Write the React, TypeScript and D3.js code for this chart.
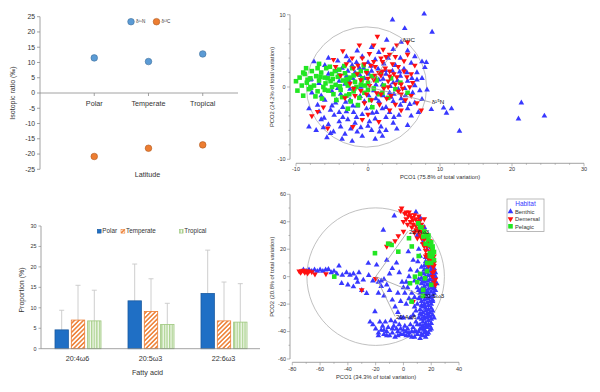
import React from "react";
import * as d3 from "d3";

const FONT = "'Liberation Sans', Arial, sans-serif";

// ---------- Panel A: isotopic ratios ----------
const isoCats = ["Polar", "Temperate", "Tropical"];
const isoN15 = [11.5, 10.3, 12.8];
const isoC13 = [-20.8, -18.1, -17.0];
const isoTicks = [25, 20, 15, 10, 5, 0, -5, -10, -15, -20, -25];

// ---------- Panel C: fatty acids ----------
const faCats = ["20:4ω6", "20:5ω3", "22:6ω3"];
const faSeries = ["Polar", "Temperate", "Tropical"];
const faPolar = [4.6, 11.7, 13.5];
const faPolarErr = [9.4, 20.7, 24.1];
const faTemperate = [7.0, 9.1, 6.8];
const faTemperateErr = [15.5, 17.1, 16.3];
const faTropical = [6.8, 5.9, 6.5];
const faTropicalErr = [14.3, 11.1, 15.9];
const faTicks = [0, 5, 10, 15, 20, 25, 30];

// ---------- Panel B: PCO of isotopes ----------
const pcoBTicksX = [-10, 0, 10, 20, 30];
const pcoBTicksY = [-10, 0, 10];
const pcoBVectors: [string, number, number][] = [["δ¹³C", 4.7, 6.5], ["δ¹⁵N", 8.7, -2.1]];
const pcoBBenthic: [number, number][] = [
  [-5.5, 4.0], [-3, 4.2], [-1.5, 5.0], [0.5, 5.5], [1.5, 4.8], [2.6, 6.5], [3.5, 5.2], [4.5, 4.0], [5.5, 5.0], [6.5, 4.2],
  [7.5, 3.5], [3.4, 9.3], [5.1, 8.1], [7.8, 10.1], [8.9, 7.6], [8.1, 3.4], [7.9, 2.7], [6.8, 2.0], [-7.5, 3.5], [-6, 3.0],
  [-4.2, 3.6], [-2.2, 3.0], [0, 3.4], [1, 3.8], [2.2, 3.2], [3.8, 3.0], [5.0, 2.5], [6, 3.3], [-0.8, 4.2], [-2.8, 2.2],
  [-8, 1.0], [-6.8, 0.5], [-5.5, 1.8], [-4, 0.8], [-3, 1.5], [-1.8, 2.0], [-0.5, 1.2], [0.5, 2.2], [1.5, 1.0], [2.5, 1.8],
  [3.5, 0.6], [4.5, 1.5], [5.5, 0.8], [6.5, 0.2], [7.5, 1.2], [8.2, -0.4], [7.5, -1.7], [8.8, -3.1], [10.5, -2.9], [10.9, -3.6],
  [11.6, -3.0], [12.7, -6.1], [21.3, -2.2], [20.9, -4.4], [24.5, -4.0], [-1, 0], [0.8, -0.5], [2, 0.3], [3, -0.8], [4.2, -0.3],
  [5.2, -1.2], [6.2, -0.8], [-2.5, -0.3], [-3.8, -1.0], [-5, -0.6], [-6.5, -1.2], [-7.8, -0.8], [-8.2, -5.5], [-7.9, 1.1], [-6.1, -4.3],
  [-8.2, -3.0], [-7, -2.5], [-6, -1.8], [-5.2, -3.2], [-4.5, -2.2], [-3.5, -2.8], [-2.5, -1.8], [-1.5, -2.6], [-0.5, -2.0], [0.5, -2.8],
  [1.5, -2.0], [2.5, -2.8], [3.5, -2.0], [4.5, -2.5], [5.5, -3.0], [6.5, -2.2], [-6.5, -4.5], [-5.5, -5.2], [-4.7, -3.9], [-3.8, -5.5],
  [-2.8, -4.5], [-1.8, -5.0], [-0.8, -3.8], [0.2, -4.8], [1.2, -3.5], [2.5, -4.2], [3.5, -5.0], [4.3, -3.9], [6.0, -4.0], [7.0, -3.5],
  [-5.2, -6.4], [-5.7, -7.0], [-4.8, -6.2], [-3.2, -6.5], [-1.5, -6.2], [0.5, -6.0], [2.0, -6.8], [2.5, -6.0], [-7.2, -6.0], [-4.4, -1.8],
  [-2.2, -7.5], [1.0, -7.2], [4.0, -5.8], [5.5, -5.3], [-0.2, -3.0], [1.8, -5.5], [-4.0, -3.5], [-2.0, -3.5], [3.0, -3.5], [5.0, -2.0],
  [7.2, -0.5], [6.8, 1.0], [-3.5, -4.2], [-1.0, -5.6], [1.0, -4.4], [3.2, -1.4], [-2.6, 0.8], [-1.2, 2.6], [2.8, 4.0], [4.6, 6.2],
  [-4.5, 2.2], [-3.6, 2.6], [-2.6, 3.6], [-1.6, 3.4], [-0.6, 2.6], [0.4, 2.9], [1.4, 2.5], [2.4, 2.3], [3.4, 2.2], [4.4, 2.1],
  [5.4, 2.0], [-4.2, -0.2], [-3.2, 0.4], [-2.1, 1.2], [-1.1, 1.6], [0.1, 1.8], [1.1, 0.3], [2.1, 1.1], [3.1, 0.1], [4.1, 0.9],
  [5.1, -0.2], [6.1, 1.2], [-3.1, -2.1], [-2.1, -2.6], [-1.1, -1.3], [0.1, -1.2], [1.1, -1.6], [2.1, -1.2], [3.6, -1.0], [4.6, -1.6],
  [5.8, -2.4], [-1.6, -4.2], [0.6, -3.6], [2.0, -3.0], [3.6, -4.2], [-5.0, -2.6], [-3.0, -3.4], [-6.8, -3.4], [-4.0, -4.8], [-2.4, -5.8],
  [0.0, -5.4], [1.6, -6.2], [-0.8, -6.8], [-3.6, -7.2], [-6.2, -5.6]
];
const pcoBPelagic: [number, number][] = [
  [-10, 0.8], [-9.5, 1.3], [-9.2, 0.2], [-8.8, 1.8], [-8.5, 0.6], [-8.2, -0.3], [-8, 1.2], [-7.8, 2.2], [-7.5, 0.2], [-7.2, 1.5],
  [-7, -0.6], [-6.8, 0.9], [-6.5, 2.0], [-6.2, 0.0], [-6, 1.3], [-5.8, 2.6], [-5.5, -0.5], [-5.2, 0.8], [-5, 1.8], [-4.8, -1.0],
  [-4.5, 0.3], [-4.2, 1.4], [-4, 2.4], [-3.8, -0.4], [-3.5, 0.9], [-3.2, 1.9], [-3, -1.2], [-2.8, 0.2], [-2.5, 1.3], [-2.2, 2.6],
  [-2, -0.6], [-1.8, 0.7], [-1.5, 1.8], [-1.2, -1.5], [-1, 0.3], [-0.8, 1.2], [-0.5, -0.8], [-0.2, 2.2], [0, 0.6], [0.3, -1.8],
  [0.5, 1.5], [0.8, -0.2], [1.2, 0.9], [1.5, -1.0], [1.8, 2.0], [2.2, 0.2], [2.8, -1.5], [3.2, 1.2], [3.8, -0.3], [4.5, 0.6],
  [5.5, -0.8], [-9.8, -0.5], [-8.6, 2.6], [-7.3, -1.3], [-6.4, -1.6], [-5.3, 2.8], [-4.4, -1.8], [-3.3, 2.9], [-2.4, -2.0], [-1.4, -2.5],
  [-0.6, 3.0], [0.6, -2.8], [-2.8, -3.0], [-9.0, -1.2], [-6.8, 3.2], [-7.9, -0.1], [-5.9, 0.5], [-4.9, 1.1], [-3.9, 0.1], [-2.9, 1.1],
  [-1.9, -0.2], [-0.9, 0.9], [-9.0, 2.0], [-8.0, 0.0], [-7.0, 2.6], [-6.0, -0.4], [-5.0, 0.0], [-4.0, 1.6], [-3.0, 0.6], [-2.0, 1.6],
  [-1.0, 2.2], [0.0, -0.4], [-6.6, 1.4], [-5.6, 1.2], [-4.6, 2.2], [-3.6, -1.4], [-2.6, -1.0], [-1.6, 0.0], [-0.4, 0.2], [1.0, 1.2],
  [2.0, -0.8], [-8.4, 1.0]
];
const pcoBDemersal: [number, number][] = [
  [1.3, 7.0], [2.1, 5.2], [5.5, 6.2], [-1.2, 5.8], [0.2, 4.6], [3.0, 4.5], [4.0, 5.8], [-3.5, 5.0], [-2.2, 4.0], [-0.5, 3.2],
  [1.0, 2.8], [2.0, 3.5], [3.0, 2.2], [4.2, 2.8], [5.0, 3.6], [-4.5, 2.8], [-1.5, 1.8], [-0.2, 2.0], [0.8, 1.0], [1.8, 1.6],
  [2.8, 0.8], [3.6, 1.8], [4.6, 0.4], [5.4, 1.4], [6.2, 0.6], [-2.5, 0.5], [-1.0, -0.5], [0.2, 0.2], [1.2, -0.8], [2.2, -0.2],
  [3.2, -1.2], [4.2, -0.6], [5.2, -1.8], [6.0, -1.2], [7.4, -3.2], [-3.2, -1.5], [-1.8, -1.2], [0.5, -1.8], [1.6, -2.4], [2.6, -1.6],
  [3.8, -2.4], [4.6, -3.2], [0.0, -3.8], [-0.8, -4.5], [1.5, -4.8], [-7.0, -3.4], [-7.8, -4.0], [-5.6, -5.7], [-2.1, -5.5], [-6.2, -2.8],
  [5.5, 4.5], [6.5, 3.0], [-3.0, 3.2], [-0.8, 4.0], [0.8, 3.5], [2.5, 4.2], [1.5, 2.0], [2.4, 2.6], [3.4, 3.2], [-2.0, 2.6],
  [-0.5, -2.2], [4.8, -0.2], [6.8, -2.2], [3.0, -3.2], [0.8, 5.8], [-4.8, 3.8], [5.0, 2.2], [6.0, 1.8], [-1.0, 1.0], [0.0, 1.2],
  [1.0, 1.6], [2.0, 2.2], [3.0, 1.5], [4.0, 1.4], [-0.2, -1.0], [1.8, -1.0], [2.8, 0.0], [3.8, 0.4], [4.6, -1.0], [5.8, 0.0],
  [-2.0, -0.2], [-3.8, 1.6], [0.4, 3.0], [-1.4, 3.0], [1.8, 4.0], [3.8, 4.2]
];

// ---------- Panel D: PCO of fatty acids ----------
const pcoDTicksX = [-80, -60, -40, -20, 0, 20, 40];
const pcoDTicksY = [-60, -40, -20, 0, 20, 40, 60];
const pcoDOrigin: [number, number] = [-20, 0];
const pcoDVectors: [string, number, number][] = [["22:6ω3", 3.2, 33], ["20:5ω3", 14, -14], ["20:4ω6", -6, -29]];
const pcoDBenthic: [number, number][] = [
  [-72, 5], [-70, 4], [-68, 5], [-66, 4], [-64, 5], [-62, 4], [-60, 5], [-58, 4], [-56, 5], [-54, 5.4],
  [-52, 3], [-50, 4], [-46.4, 7.8], [-48, 2], [-44, 1.2], [-41, 3], [-38.5, 1.2], [-36, 2], [-34, -1], [-32, 3],
  [-28.9, -2.4], [-44.5, -4.8], [-40, -6], [-36, -7.3], [-33, -4], [-25, 1], [-22, -3], [-18, -4], [-16, -7], [-14, -2],
  [-12, -6], [-26.5, -12.1], [-20.5, -25.5], [-18, -12], [-14, -14], [-10, -10], [-8, -17], [-6, -22], [-4, -26], [-25.3, 9.8],
  [-19.3, 8.5], [-14.5, 34], [-6.6, 44.3], [-12, 12], [-8, 6], [-5, 10], [-3, 3], [-1, -4], [1, -12], [2, -20],
  [3, -8], [4, 0], [3.5, 18.2], [10.4, 10.9], [5, 5], [7, 12], [8, -3], [-16, -3], [-30, -10], [-10, 2],
  [-20, -38], [-18, -41], [-16, -39], [-14, -42], [-12, -40], [-10, -43], [-8, -41], [-6, -44], [-4, -40], [-2, -42],
  [0, -39], [2, -43], [4, -41], [6, -44], [8, -40], [10, -42], [-15, -36], [-11, -37], [-7, -36], [-3, -35],
  [1, -36], [5, -35], [-17, -33], [-9, -32], [0, -30], [-22, -35], [-24, -33], [-5, -38], [3, -38], [7, -37],
  [12, -45], [14, -43], [16, -44], [18, -41], [11, -40], [13, -38], [15, -39], [17, -37], [19, -36], [12, -35],
  [14, -33], [16, -34], [18, -32], [20, -31], [11, -30], [13, -28], [15, -29], [17, -27], [19, -26], [21, -25],
  [12, -24], [14, -22], [16, -23], [18, -21], [20, -20], [13, -18], [15, -17], [17, -16], [19, -15], [21, -14],
  [12, -12], [14, -11], [16, -10], [18, -9], [20, -8], [22, -7], [13, -5], [15, -4], [17, -3], [19, -2],
  [21, -1], [23, 0], [14, 2], [16, 3], [18, 4], [20, 5], [22, 6], [15, 8], [17, 9], [19, 10],
  [21, 11], [16, 14], [18, 15], [20, 16], [17, 20], [19, 22], [9, -25], [8, -15], [10, -8], [9, -33],
  [7, -28], [6, -18], [22, -12], [22, -3], [23, 3], [11, -2], [10, 4], [13, 7], [12, 15], [14, 25],
  [16, 28], [15, 36], [12, 43], [9, 47], [10, 30], [11, 20], [24, -5], [20, -38], [22, -30], [21, -18],
  [23, -10], [16, -40], [14, -36], [18, -28], [15, -21], [17, -12], [13, -1], [11, -16], [10, -35], [19, -6],
  [13, -42], [15, -41], [17, -42], [19, -39], [12, -38], [14, -37], [16, -36], [18, -35], [20, -34], [13, -31],
  [15, -31], [17, -30], [19, -29], [21, -28], [12, -27], [14, -26], [16, -25], [18, -24], [20, -23], [13, -21],
  [15, -20], [17, -19], [19, -18], [21, -17], [12, -15], [14, -14], [16, -13], [18, -12], [20, -11], [13, -9],
  [15, -7], [17, -6], [19, -5], [21, -4], [14, -3], [16, 0], [18, 1], [20, 2], [22, 2], [15, 5],
  [17, 6], [19, 7], [21, 8], [16, 11], [18, 11], [20, 13], [22, -9], [11, -10], [10, -20], [9, -40],
  [8, -44], [6, -40], [4, -43], [2, -40], [0, -42], [-2, -38], [-4, -43], [-8, -38], [-12, -43], [-14, -39],
  [-18, -43], [-6, -33], [-13, -33], [-2, -30], [5, -30], [8, -22], [6, -12], [4, -16], [2, -4], [0, -8],
  [-4, -12], [-2, -18]
];
const pcoDDemersal: [number, number][] = [
  [-75, 4], [-74, 3], [-73.2, 4.2], [-72, 4.5], [-71, 3], [-70, 4], [-69, 2.5], [-68, 4], [-66, 3.5], [-63.7, 1.8],
  [-55.8, 2.0], [-30, -9.7], [-20, -1.5], [-1.3, 49.9], [3.5, 44.2], [7, 41.3], [1, 46], [4, 47], [6, 43], [8, 45],
  [10, 40], [5, 40], [9, 37], [11, 35], [13, 33], [8, 32], [12, 30], [15, 27], [14, 24], [17, 22],
  [16, 19], [19, 18], [18, 13], [20, 12], [21.4, 7.3], [22, 4], [21, 0], [23, -2], [22, 10], [10, 28],
  [6, 36], [3, 38], [2, 42], [-3.7, 29.7], [-10.1, 24.3], [-12, 22], [-6, 26], [0, 33], [13, 38], [11, 44],
  [17, 29], [20, 20], [22, 15], [19, 26], [7, -18], [23, -6], [0, 40], [15, 42], [2, 47], [5, 45],
  [9, 42], [12, 41], [14, 36], [16, 31], [18, 25], [20, 17], [21, 13], [22, 8], [7, 38], [11, 33],
  [13, 28], [15, 22], [17, 16], [21, 3], [22, -4], [18, 8], [16, 15], [-2, 48], [9, 34]
];
const pcoDPelagic: [number, number][] = [
  [10.7, 38.9], [14.3, 29.2], [20.3, 14.6], [-20.5, 17.1], [-8.5, 23.1], [-3.7, 18.2], [-11, 24], [-49.8, 0], [12, 36], [15, 33],
  [18, 30], [20, 25], [21, 20], [19, 17], [22, 12], [17, 10], [8.3, 0], [15.5, -1.2], [4.7, -4.8], [14.2, -9.7],
  [5.9, -18.2], [19, 15], [21, 22], [16, 24], [6, 22], [4, 28], [11, 15], [12, 2], [20, -6], [13, 36],
  [16, 30], [18, 27], [19, 23], [20, 10], [21, 16], [17, 4], [22, 18], [10, -4], [14, -14]
];

const BLUE = "#3838ff";
const RED = "#ff1010";
const GREEN = "#22e622";
const AXIS = "#8c8c8c";
const TXT = "#333";

const triUp = d3.symbol(d3.symbolTriangle, 14)() as string;
const square = d3.symbol(d3.symbolSquare, 21)() as string;

function PanelA() {
  const x = d3.scaleLinear().domain([0, 3.65]).range([40, 238]);
  const y = d3.scaleLinear().domain([-25, 25]).range([169.3, 16.7]);
  return (
    <g>
      <line x1={x(0)} x2={x(0)} y1={y(25)} y2={y(-25)} stroke={AXIS} strokeWidth={0.8} />
      {isoTicks.map((t) => (
        <g key={t}>
          <line x1={x(0) - 3} x2={x(0)} y1={y(t)} y2={y(t)} stroke={AXIS} strokeWidth={0.8} />
          <text x={x(0) - 5} y={y(t)} dy="0.35em" textAnchor="end" fontSize={6.8} fill={TXT}>{t}</text>
        </g>
      ))}
      <line x1={x(0)} x2={x(3.65)} y1={y(0)} y2={y(0)} stroke={AXIS} strokeWidth={0.8} />
      {isoCats.map((c, i) => (
        <g key={c}>
          <line x1={x(i + 1)} x2={x(i + 1)} y1={y(0)} y2={y(0) + 3} stroke={AXIS} strokeWidth={0.8} />
          <text x={x(i + 1)} y={105.5} textAnchor="middle" fontSize={7.2} fill={TXT}>{c}</text>
          <circle cx={x(i + 1)} cy={y(isoN15[i])} r={3.3} fill="#5b9bd5" stroke="#41719c" strokeWidth={0.6} />
          <circle cx={x(i + 1)} cy={y(isoC13[i])} r={3.3} fill="#ed7d31" stroke="#ae5a21" strokeWidth={0.6} />
        </g>
      ))}
      <text transform={`translate(15,${y(0)}) rotate(-90)`} textAnchor="middle" fontSize={7} fill={TXT}>Isotopic ratio (‰)</text>
      <text x={147.5} y={177} textAnchor="middle" fontSize={7.2} fill={TXT}>Latitude</text>
      <circle cx={131} cy={21.7} r={3.3} fill="#5b9bd5" stroke="#41719c" strokeWidth={0.6} />
      <text x={136} y={23.3} fontSize={4.6} fill={TXT}>δ¹⁵N</text>
      <circle cx={156.5} cy={21.7} r={3.3} fill="#ed7d31" stroke="#ae5a21" strokeWidth={0.6} />
      <text x={161.5} y={23.3} fontSize={4.6} fill={TXT}>δ¹³C</text>
    </g>
  );
}

function PanelC() {
  const x0 = d3.scaleBand().domain(faCats).range([41, 260]);
  const x1 = d3.scaleBand().domain(faSeries).range([14, 60]).paddingInner(0.18);
  const y = d3.scaleLinear().domain([0, 30]).range([348.7, 226]);
  const vals = [faPolar, faTemperate, faTropical];
  const errs = [faPolarErr, faTemperateErr, faTropicalErr];
  const fills = ["#1f6fc5", "url(#hatchTemp)", "url(#hatchTrop)"];
  const strokes = ["#1a5aa0", "#ed7d31", "#9cc67c"];
  return (
    <g>
      <line x1={41} x2={41} y1={y(30)} y2={y(0)} stroke={AXIS} strokeWidth={0.8} />
      {faTicks.map((t) => (
        <g key={t}>
          <line x1={38.5} x2={41} y1={y(t)} y2={y(t)} stroke={AXIS} strokeWidth={0.7} />
          <text x={36.5} y={y(t)} dy="0.35em" textAnchor="end" fontSize={5.4} fill={TXT}>{t}</text>
        </g>
      ))}
      {faCats.map((c, i) => (
        <g key={c}>
          {faSeries.map((s, j) => {
            const bx = (x0(c) as number) + (x1(s) as number);
            const bw = x1.bandwidth();
            const cx = bx + bw / 2;
            return (
              <g key={s}>
                <line x1={cx} x2={cx} y1={y(vals[j][i])} y2={y(errs[j][i])} stroke="#c8c8c8" strokeWidth={0.9} />
                <line x1={cx - 2.5} x2={cx + 2.5} y1={y(errs[j][i])} y2={y(errs[j][i])} stroke="#c8c8c8" strokeWidth={0.9} />
                <rect x={bx} y={y(vals[j][i])} width={bw} height={y(0) - y(vals[j][i])} fill={fills[j]} stroke={strokes[j]} strokeWidth={0.8} />
              </g>
            );
          })}
          <text x={(x0(c) as number) + x0.bandwidth() / 2} y={360.5} textAnchor="middle" fontSize={7.2} fill={TXT}>{c}</text>
        </g>
      ))}
      <line x1={41} x2={260} y1={y(0)} y2={y(0)} stroke={AXIS} strokeWidth={0.8} />
      <text transform={`translate(24,290) rotate(-90)`} textAnchor="middle" fontSize={7} fill={TXT}>Proportion (%)</text>
      <text x={147.5} y={375} textAnchor="middle" fontSize={7.2} fill={TXT}>Fatty acid</text>
      {faSeries.map((s, j) => {
        const lx = [97.3, 121, 179.3][j];
        return (
          <g key={s}>
            <rect x={lx} y={229.3} width={3.8} height={3.8} fill={fills[j]} stroke={strokes[j]} strokeWidth={0.6} />
            <text x={lx + 5} y={233.3} fontSize={6.3} fill={TXT}>{s}</text>
          </g>
        );
      })}
    </g>
  );
}

function Markers({ pts, x, y, kind }: { pts: [number, number][]; x: any; y: any; kind: string }) {
  return (
    <g>
      {pts.map(([a, b], i) => {
        if (kind === "up") return <path key={i} d={triUp} transform={`translate(${x(a)},${y(b)})`} fill={BLUE} />;
        if (kind === "down") return <path key={i} d={triUp} transform={`translate(${x(a)},${y(b)}) rotate(180)`} fill={RED} />;
        return <path key={i} d={square} transform={`translate(${x(a)},${y(b)})`} fill={GREEN} />;
      })}
    </g>
  );
}

function PanelB() {
  const x = d3.scaleLinear().domain([-10, 30]).range([296, 584]);
  const y = d3.scaleLinear().domain([-10, 10]).range([159.3, 14.7]);
  const r = x(8.35) - x(0);
  const minorX = d3.range(-10, 30.01, 2);
  const minorY = d3.range(-10, 10.01, 2);
  return (
    <g>
      <line x1={290} x2={290} y1={y(10)} y2={y(-10)} stroke={AXIS} strokeWidth={0.8} />
      {minorY.map((t) => (
        <line key={t} x1={pcoBTicksY.includes(t) ? 287 : 288.5} x2={290} y1={y(t)} y2={y(t)} stroke={AXIS} strokeWidth={0.6} />
      ))}
      {pcoBTicksY.map((t) => (
        <text key={t} x={285.5} y={y(t)} dy="0.35em" textAnchor="end" fontSize={5.5} fill={TXT}>{t}</text>
      ))}
      <line x1={x(-10)} x2={x(30)} y1={163.3} y2={163.3} stroke={AXIS} strokeWidth={0.8} />
      {minorX.map((t) => (
        <line key={t} x1={x(t)} x2={x(t)} y1={163.3} y2={pcoBTicksX.includes(t) ? 166.3 : 164.8} stroke={AXIS} strokeWidth={0.6} />
      ))}
      {pcoBTicksX.map((t) => (
        <text key={t} x={x(t)} y={170.5} textAnchor="middle" fontSize={5.5} fill={TXT}>{t}</text>
      ))}
      <text x={440} y={178.5} textAnchor="middle" fontSize={5.8} fill={TXT}>PCO1 (75.8% of total variation)</text>
      <text transform={`translate(273.5,${y(0)}) rotate(-90)`} textAnchor="middle" fontSize={5.8} fill={TXT}>PCO2 (24.2% of total variation)</text>
      <circle cx={x(0) - 1.5} cy={y(0)} r={r} fill="none" stroke="#b0b0b0" strokeWidth={0.8} />
      <Markers pts={pcoBBenthic} x={x} y={y} kind="up" />
      <Markers pts={pcoBPelagic} x={x} y={y} kind="sq" />
      <Markers pts={pcoBDemersal} x={x} y={y} kind="down" />
      {pcoBVectors.map(([n, a, b]) => (
        <g key={n}>
          <line x1={x(0)} y1={y(0)} x2={x(a)} y2={y(b)} stroke="#a0a0a0" strokeWidth={0.8} />
          <text x={x(a) + 1} y={y(b) + 2} fontSize={6.2} fill="#111">{n}</text>
        </g>
      ))}
    </g>
  );
}

function PanelD() {
  const x = d3.scaleLinear().domain([-80, 40]).range([292.3, 459]);
  const y = d3.scaleLinear().domain([-60, 60]).range([359, 194.3]);
  const r = x(29.5) - x(-20);
  const minorX = d3.range(-80, 40.01, 10);
  const minorY = d3.range(-60, 60.01, 10);
  return (
    <g>
      <line x1={290} x2={290} y1={y(60)} y2={y(-60)} stroke={AXIS} strokeWidth={0.8} />
      {minorY.map((t) => (
        <line key={t} x1={pcoDTicksY.includes(t) ? 287 : 288.5} x2={290} y1={y(t)} y2={y(t)} stroke={AXIS} strokeWidth={0.6} />
      ))}
      {pcoDTicksY.map((t) => (
        <text key={t} x={286} y={y(t)} dy="0.35em" textAnchor="end" fontSize={5.5} fill={TXT}>{t}</text>
      ))}
      <line x1={x(-80)} x2={x(40)} y1={362.3} y2={362.3} stroke={AXIS} strokeWidth={0.8} />
      {minorX.map((t) => (
        <line key={t} x1={x(t)} x2={x(t)} y1={362.3} y2={pcoDTicksX.includes(t) ? 365.3 : 363.8} stroke={AXIS} strokeWidth={0.6} />
      ))}
      {pcoDTicksX.map((t) => (
        <text key={t} x={x(t)} y={371.3} textAnchor="middle" fontSize={5.5} fill={TXT}>{t}</text>
      ))}
      <text x={376} y={378.8} textAnchor="middle" fontSize={5.8} fill={TXT}>PCO1 (34.3% of total variation)</text>
      <text transform={`translate(273.5,${y(0)}) rotate(-90)`} textAnchor="middle" fontSize={5.8} fill={TXT}>PCO2 (20.8% of total variation)</text>
      <circle cx={x(-20)} cy={y(0)} r={r} fill="none" stroke="#b0b0b0" strokeWidth={0.8} />
      <Markers pts={pcoDBenthic} x={x} y={y} kind="up" />
      <Markers pts={pcoDDemersal} x={x} y={y} kind="down" />
      <Markers pts={pcoDPelagic} x={x} y={y} kind="sq" />
      {pcoDVectors.map(([n, a, b]) => (
        <g key={n}>
          <line x1={x(pcoDOrigin[0])} y1={y(pcoDOrigin[1])} x2={x(a)} y2={y(b)} stroke="#a0a0a0" strokeWidth={0.8} />
          <text x={x(a) + 1} y={y(b) + 2.5} fontSize={6.2} fill="#111">{n}</text>
        </g>
      ))}
      <rect x={507} y={199} width={37} height={32.5} fill="#fff" stroke="#aaa" strokeWidth={0.8} />
      <text x={525.5} y={206} textAnchor="middle" fontSize={6.5} fill={BLUE}>Habitat</text>
      <path d={triUp} transform="translate(510.5,211.5)" fill={BLUE} />
      <text x={515} y={213.8} fontSize={5.8} fill={TXT}>Benthic</text>
      <path d={triUp} transform="translate(510.5,219) rotate(180)" fill={RED} />
      <text x={515} y={221.2} fontSize={5.8} fill={TXT}>Demersal</text>
      <path d={square} transform="translate(510.5,226.3)" fill={GREEN} />
      <text x={515} y={228.5} fontSize={5.8} fill={TXT}>Pelagic</text>
    </g>
  );
}

export default function App() {
  return (
    <svg width={600} height={392} style={{ position: "absolute", left: 0, top: 0, background: "#fff" }} fontFamily={FONT}>
      <defs>
        <pattern id="hatchTemp" patternUnits="userSpaceOnUse" width={3.2} height={3.2} patternTransform="rotate(45)">
          <rect width={3.2} height={3.2} fill="#fff" />
          <line x1={0.8} y1={0} x2={0.8} y2={3.2} stroke="#ed7d31" strokeWidth={1.5} />
        </pattern>
        <pattern id="hatchTrop" patternUnits="userSpaceOnUse" width={2.6} height={2.6}>
          <rect width={2.6} height={2.6} fill="#f4f9ef" />
          <line x1={0.7} y1={0} x2={0.7} y2={2.6} stroke="#a4cf86" strokeWidth={1.2} />
        </pattern>
      </defs>
      <PanelA />
      <PanelC />
      <PanelB />
      <PanelD />
    </svg>
  );
}
